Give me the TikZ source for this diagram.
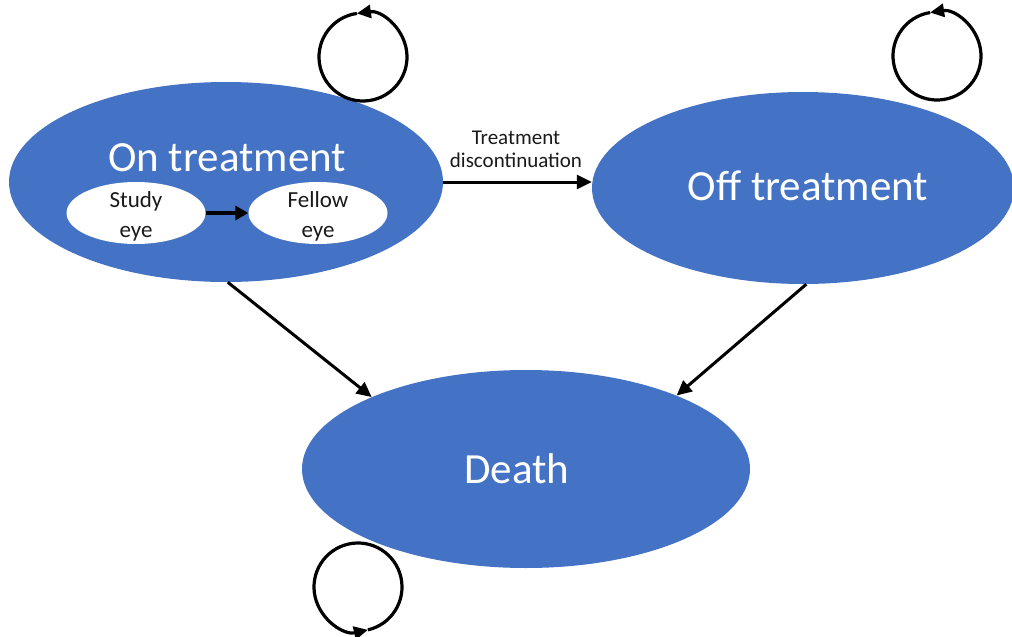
\documentclass[tikz,border=0pt]{standalone}
\usepackage{fontspec}
\setmainfont{Carlito}
\usetikzlibrary{shapes.geometric,arrows.meta}
\definecolor{stateblue}{HTML}{4472C4}
\definecolor{darktext}{HTML}{1A1A1A}
\tikzset{
  state/.style={ellipse, fill=stateblue, draw=none, inner sep=0pt},
  substate/.style={ellipse, fill=white, draw=none, inner sep=0pt,
    minimum width=139pt, minimum height=62pt},
  bigtext/.style={text=white, font=\fontsize{43}{50}\selectfont, inner sep=0pt},
  smalltext/.style={text=darktext, align=center, font=\fontsize{23}{30}\selectfont, inner sep=0pt},
  edgetext/.style={text=darktext, align=center, font=\fontsize{21}{23}\selectfont, inner sep=0pt},
  trans/.style={line width=3pt, -{Triangle[length=15pt,width=14pt]}},
  selfloop/.style={line width=3.2pt, -{Triangle[length=14pt,width=13pt]}}
}
\begin{document}
\begin{tikzpicture}[x=1pt,y=1pt]
\useasboundingbox (0,0) rectangle (1012,-637);

% states
\node[state, minimum width=434pt, minimum height=200pt] (on) at (226,-182) {};
\node[state, minimum width=422pt, minimum height=192pt] (off) at (803,-188) {};
\node[state, minimum width=448pt, minimum height=198pt] (death) at (526,-469) {};

\node[bigtext] (ontext) at (227,-158) {On treatment};
\node[bigtext] (offtext) at (808,-186) {Off treatment};
\node[bigtext] (deathtext) at (517,-469) {Death};

% sub-states of the on-treatment state
\node[substate] (study) at (136,-213) {};
\node[substate] (fellow) at (318,-213) {};
\node[smalltext] (studytext) at (136,-216) {Study\\eye};
\node[smalltext] (fellowtext) at (318,-216) {Fellow\\eye};
\draw[line width=3.6pt, -{Triangle[length=13pt,width=14pt]}] (study.east) -- (fellow.west);

% transitions
\draw[trans] (on.east) -- (on.east -| off.west);
\node[edgetext] (disc) at (516,-149) {Treatment\\discontinuation};
\draw[trans] (on.-89) -- (death.155);
\draw[trans] (off.-88) -- (death.26);

% self-transitions
\coordinate (loopon) at (363,-57);
\coordinate (loopoff) at (937,-56);
\coordinate (loopdeath) at (358,-587);
\draw[selfloop] ([shift={(-262:44pt)}]loopon) arc[start angle=-262, end angle=98, radius=44pt];
\draw[selfloop] ([shift={(-261:44pt)}]loopoff) arc[start angle=-261, end angle=99, radius=44pt];
\draw[selfloop] ([shift={(-437:44pt)}]loopdeath) arc[start angle=-437, end angle=-77, radius=44pt];
\end{tikzpicture}
\end{document}
